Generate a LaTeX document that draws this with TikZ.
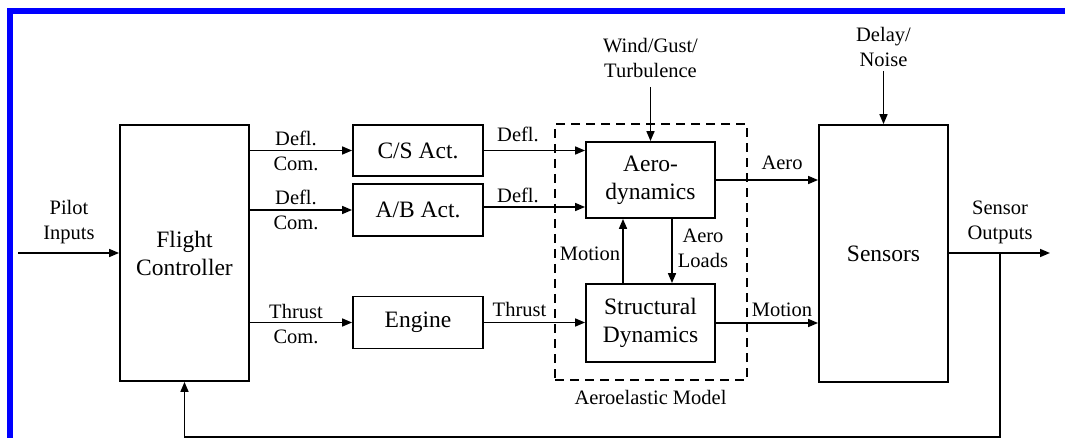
\documentclass[tikz,border=0pt]{standalone}
\usepackage{fontspec}
\setmainfont{Liberation Serif}
\usetikzlibrary{arrows.meta,calc}
\newcommand\bigtxt{\fontsize{23.5}{28}\selectfont}
\newcommand\lbltxt{\fontsize{20.5}{25}\selectfont}
\begin{document}
\begin{tikzpicture}[x=1pt,y=-1pt,
  blk/.style={draw,line width=1.8pt,inner sep=0pt,font=\bigtxt,align=center},
  lbl/.style={inner sep=0pt,font=\lbltxt,align=center},
  arr/.style={-{Triangle[length=10pt,width=8pt]},line width=1.6pt},
  frame/.style={draw=blue,line width=6pt},
  dashbox/.style={draw,line width=1.6pt,dash pattern=on 9pt off 6pt}]
\useasboundingbox (0,0) rectangle (1065,438);
\draw[frame] (10,438) -- (10,11) -- (1065,11);

% blocks
\node[blk,minimum width=129pt,minimum height=256pt] (fc) at (184.5,253) {Flight\\Controller};
\node[blk,minimum width=130pt,minimum height=51pt] (cs) at (418,150.5) {C/S Act.};
\node[blk,minimum width=130pt,minimum height=52pt] (ab) at (418,210) {A/B Act.};
\node[blk,minimum width=130pt,minimum height=52pt] (eng) at (418,322.5) {Engine};
\node[dashbox,minimum width=192pt,minimum height=256pt] (ae) at (651,252) {};
\node[blk,minimum width=129pt,minimum height=76pt] (aero) at (650.5,180) {Aero-\\dynamics};
\node[blk,minimum width=129pt,minimum height=78pt] (sd) at (650.5,323) {Structural\\Dynamics};
\node[blk,minimum width=129pt,minimum height=257pt] (sens) at (883.5,253.5) {Sensors};

% coordinates
\coordinate (pin) at (18,253);
\coordinate (wind) at (650.5,87);
\coordinate (delay) at (883.5,71);
\coordinate (sout) at (1050,253);
\coordinate (br) at (1000,253);
\coordinate (fb) at (1000,437);

% labels
\node[lbl] (lpilot) at (69,222) {Pilot\\Inputs};
\node[lbl] (ld1) at (296,150.5) {Defl.\\Com.};
\node[lbl] (ld2) at (296,210) {Defl.\\Com.};
\node[lbl] (lt1) at (296,324) {Thrust\\Com.};
\node[lbl] (ldf1) at (518,134) {Defl.};
\node[lbl] (ldf2) at (518,195) {Defl.};
\node[lbl] (lthr) at (519.5,309) {Thrust};
\node[lbl] (lwind) at (650.5,58) {Wind/Gust/\\Turbulence};
\node[lbl] (lmot) at (590,254) {Motion};
\node[lbl] (lload) at (703,248) {Aero\\Loads};
\node[lbl] (laem) at (650.5,397) {Aeroelastic Model};
\node[lbl] (laero) at (782,163) {Aero};
\node[lbl] (lmot2) at (782,310) {Motion};
\node[lbl] (ldelay) at (883.5,47) {Delay/\\Noise};
\node[lbl] (lsout) at (1000,222.5) {Sensor\\Outputs};

% connectors
\draw[arr] (pin) -- (fc.west |- pin);
\draw[arr] (fc.east |- cs.west) -- (cs.west);
\draw[arr] (fc.east |- ab.west) -- (ab.west);
\draw[arr] (fc.east |- eng.west) -- (eng.west);
\draw[arr] (cs.east) -- (cs.east -| aero.west);
\draw[arr] ($(ab.east)+(0,-3)$) -- ($(ab.east -| aero.west)+(0,-3)$);
\draw[arr] (eng.east) -- (eng.east -| sd.west);
\draw[arr] (wind) -- (aero.north);
\draw[arr] (sd.north -| 623,0) -- (aero.south -| 623,0);
\draw[arr] (aero.south -| 672,0) -- (sd.north -| 672,0);
\draw[arr] (aero.east) -- (aero.east -| sens.west);
\draw[arr] (sd.east) -- (sd.east -| sens.west);
\draw[arr] (delay) -- (sens.north);
\draw[arr] (sens.east |- sout) -- (sout);
\draw[arr] (br) -- (fb) -- (fb -| fc.south) -- (fc.south);
\end{tikzpicture}
\end{document}
